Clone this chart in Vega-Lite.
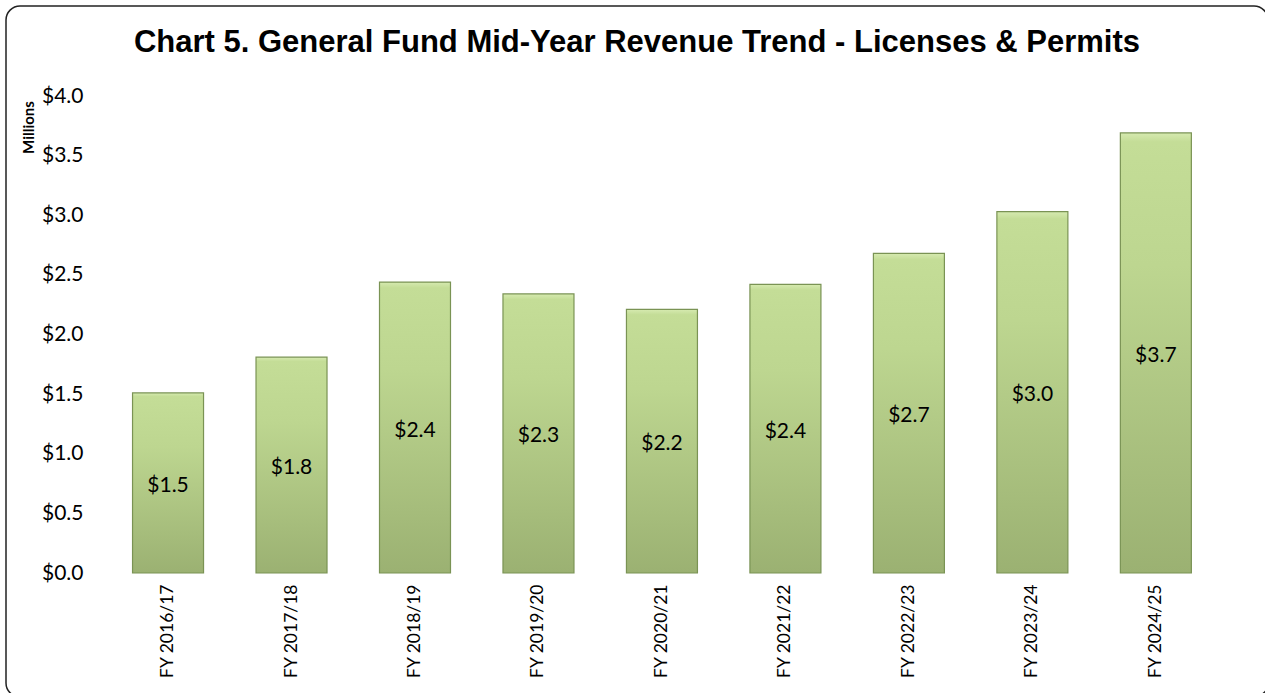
{
  "$schema": "https://vega.github.io/schema/vega-lite/v6.json",
  "width": 1262,
  "height": 691,
  "autosize": "none",
  "padding": {"left": 6, "top": 6, "right": 0, "bottom": 0},
  "background": "white",
  "config": {
    "view": {"stroke": "#222222", "strokeWidth": 1.5, "cornerRadius": 14},
    "font": "Lato"
  },
  "title": {
    "text": "Chart 5. General Fund Mid-Year Revenue Trend - Licenses & Permits",
    "font": "Liberation Sans",
    "fontSize": 31,
    "fontWeight": "bold",
    "color": "#000000",
    "anchor": "middle",
    "offset": -53
  },
  "data": {
    "values": [
      {"year": "FY 2016/17", "value": 1.51},
      {"year": "FY 2017/18", "value": 1.81},
      {"year": "FY 2018/19", "value": 2.44},
      {"year": "FY 2019/20", "value": 2.34},
      {"year": "FY 2020/21", "value": 2.21},
      {"year": "FY 2021/22", "value": 2.42},
      {"year": "FY 2022/23", "value": 2.68},
      {"year": "FY 2023/24", "value": 3.03},
      {"year": "FY 2024/25", "value": 3.69}
    ]
  },
  "encoding": {
    "x": {
      "field": "year",
      "type": "nominal",
      "sort": null,
      "scale": {"range": [100.3, 1211.6], "paddingInner": 0.425, "paddingOuter": 0.2125},
      "axis": {
        "title": null,
        "labelAngle": -90,
        "labelFont": "Lato",
        "labelFontSize": 17.5,
        "labelColor": "#000000",
        "ticks": false,
        "domain": false,
        "labelPadding": 0,
        "offset": -113
      }
    }
  },
  "layer": [
    {
      "mark": {
        "type": "bar",
        "fill": {
          "gradient": "linear",
          "x1": 0, "y1": 0, "x2": 0, "y2": 1,
          "stops": [
            {"offset": 0, "color": "#d6eab0"},
            {"offset": 0.02, "color": "#c4dd97"},
            {"offset": 0.3, "color": "#bdd690"},
            {"offset": 1, "color": "#9bb172"}
          ]
        },
        "stroke": "#7a9354",
        "strokeWidth": 1.2
      },
      "encoding": {
        "y": {
          "field": "value",
          "type": "quantitative",
          "scale": {"domain": [0, 4], "range": [567, 90], "nice": false, "zero": true},
          "axis": {
            "title": "Millions",
            "titleFont": "Lato",
            "titleFontSize": 15,
            "titleFontWeight": "bold",
            "titleColor": "#000000",
            "titleAngle": -90,
            "titleX": -55,
            "titleY": 121,
            "titleAlign": "center",
            "titleBaseline": "middle",
            "values": [0, 0.5, 1, 1.5, 2, 2.5, 3, 3.5, 4],
            "format": "$.1f",
            "labelFont": "Lato",
            "labelFontSize": 21,
            "labelColor": "#000000",
            "ticks": false,
            "domain": false,
            "grid": false,
            "labelPadding": 0,
            "offset": -77
          }
        }
      }
    },
    {
      "mark": {"type": "text", "font": "Lato", "fontSize": 21, "color": "#000000", "baseline": "middle", "dy": 3},
      "encoding": {
        "y": {
          "field": "value",
          "type": "quantitative",
          "scale": {"domain": [0, 8], "range": [567, 90], "nice": false},
          "axis": null
        },
        "text": {"field": "value", "format": "$.1f"}
      }
    }
  ],
  "resolve": {"scale": {"y": "independent"}}
}
